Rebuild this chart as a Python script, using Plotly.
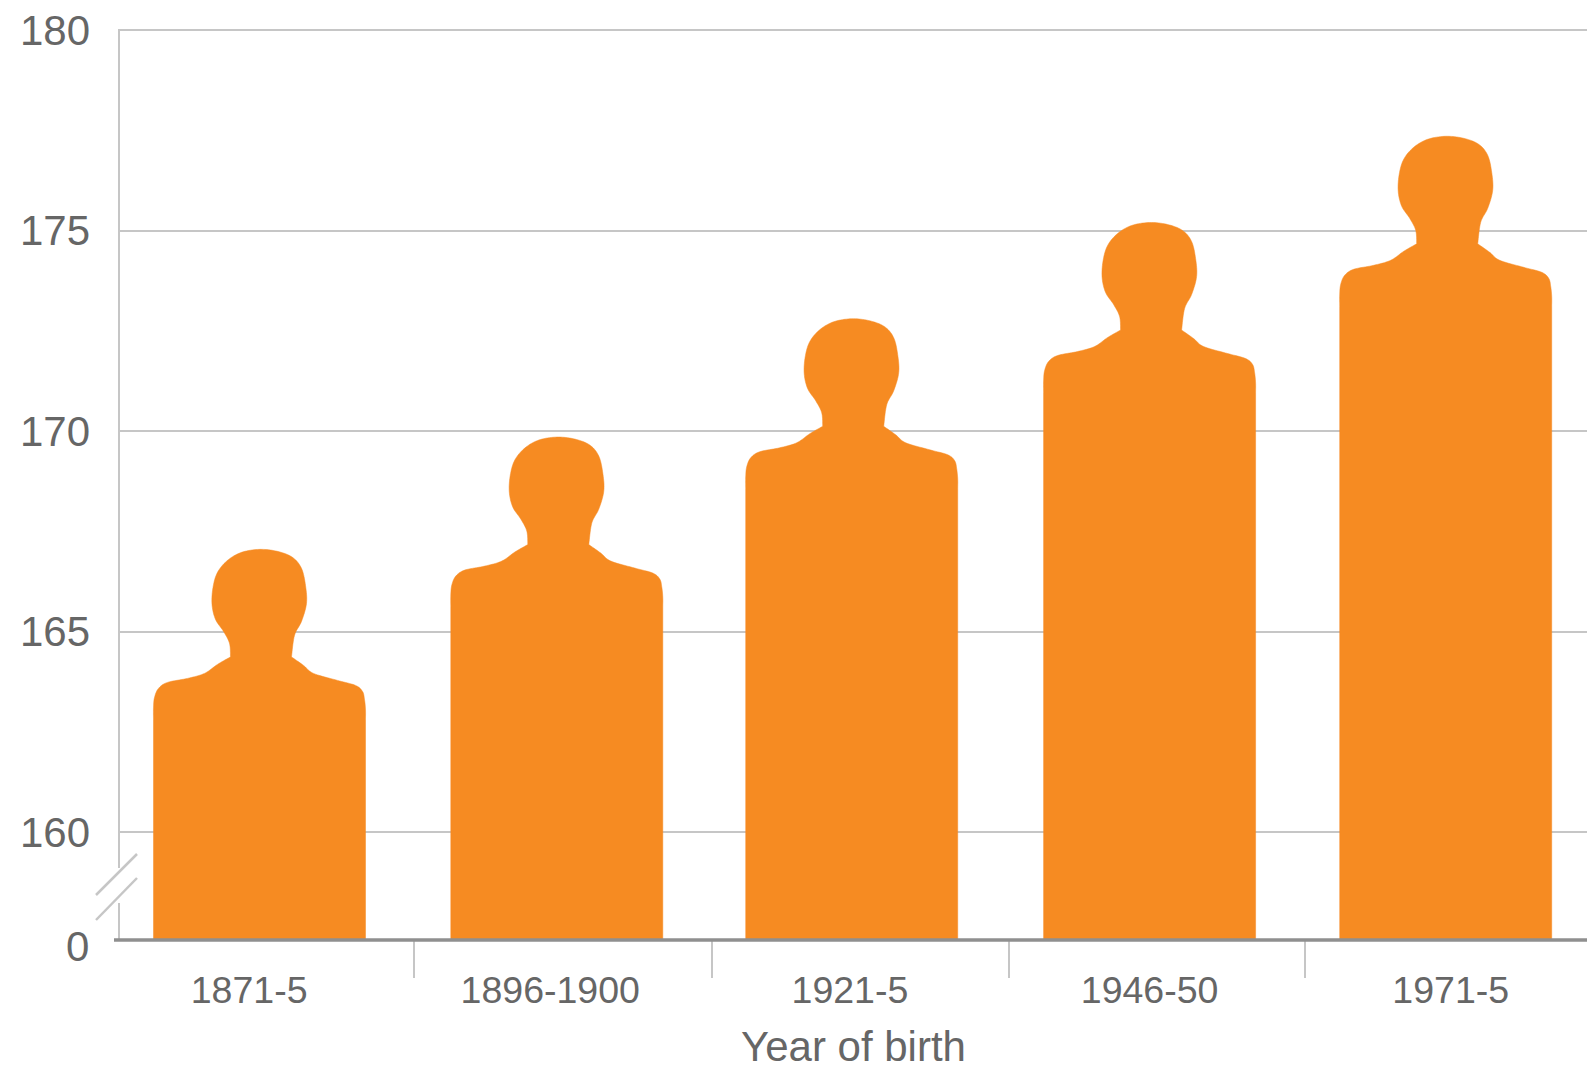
import plotly.graph_objects as go

# Average height (cm) by birth cohort
cohorts = ["1871-5", "1896-1900", "1921-5", "1946-50", "1971-5"]
heights = [167.05, 169.85, 172.8, 175.2, 177.35]
figure_positions = [0.0, 1.002, 1.996, 3.0, 3.998]
label_positions = [-0.035, 0.98, 1.99, 3.0, 4.015]
separator_positions = [0.52, 1.525, 2.525, 3.525]
y_ticks = [160, 165, 170, 175, 180]
axis_floor = 157.31  # where the broken axis reaches its zero line

WIDTH, HEIGHT = 1587, 1072
LEFT, TOP, BOTTOM = 119, 30, 132
COLUMN_PX = 296.7
UNIT_PX = 40.1
HALF_BODY_PX = 106
ORANGE = "#F68B22"
GRID = "#c6c6c6"
TEXT = "#666666"
FONT = "Liberation Sans"

# Control points of the silhouette, in pixels from the crown and the body's
# centre line; the three chains meet at the sharp corners beside the neck
left_shoulder_px = [
    (-106, 170), (-106, 158), (-105, 148), (-101, 139), (-92, 133), (-72, 129),
    (-55, 124), (-42, 115), (-29, 107.5),
]
head_px = [
    (-29, 107.5), (-30, 94), (-36, 82), (-44, 70), (-47.5, 55), (-46.5, 38), (-42, 23),
    (-32, 11), (-18, 3), (0, 0), (18, 2), (33, 8), (42, 19), (46, 36), (47, 54),
    (42, 72), (35, 86), (32, 107.5),
]
right_shoulder_px = [
    (32, 107.5), (44, 116), (54, 124), (78, 131), (96, 136), (103, 142), (105, 150),
    (106, 160), (106, 170),
]


def smooth_chain(points, steps=10):
    """Uniform Catmull-Rom curve through the control points."""
    pts = [points[0]] + points + [points[-1]]
    curve = []
    for i in range(1, len(pts) - 2):
        p0, p1, p2, p3 = pts[i - 1], pts[i], pts[i + 1], pts[i + 2]
        for s in range(steps):
            t = s / steps
            curve.append(tuple(
                0.5 * (2 * b + (c - a) * t + (2 * a - 5 * b + 4 * c - d) * t ** 2
                       + (3 * b - a - 3 * c + d) * t ** 3)
                for a, b, c, d in zip(p0, p1, p2, p3)
            ))
    curve.append(points[-1])
    return curve


silhouette = (
    smooth_chain(left_shoulder_px) + smooth_chain(head_px) + smooth_chain(right_shoulder_px)
)

fig = go.Figure()
for cohort, centre, height in zip(cohorts, figure_positions, heights):
    xs = [centre - HALF_BODY_PX / COLUMN_PX]
    ys = [axis_floor]
    for dx, dy in silhouette:
        xs.append(centre + dx / COLUMN_PX)
        ys.append(height - dy / UNIT_PX)
    xs.append(centre + HALF_BODY_PX / COLUMN_PX)
    ys.append(axis_floor)
    fig.add_trace(go.Scatter(
        x=xs, y=ys, name=cohort, mode="lines", fill="toself", fillcolor=ORANGE,
        line=dict(color=ORANGE, width=0.5, simplify=False),
        hoverinfo="name", showlegend=False,
    ))

plot_w = WIDTH - LEFT
plot_h = HEIGHT - TOP - BOTTOM


def px_x(v):
    return (v - LEFT) / plot_w


def px_y(v):
    return 1 - (v - TOP) / plot_h


def paper_line(x0, y0, x1, y1, color, width, layer="above"):
    return dict(type="line", xref="paper", yref="paper", x0=px_x(x0), y0=px_y(y0),
                x1=px_x(x1), y1=px_y(y1), line=dict(color=color, width=width), layer=layer)


shapes = [
    # Frame: top rule and left spine, the spine interrupted by the axis break
    paper_line(118, 30, WIDTH, 30, GRID, 2, "below"),
    paper_line(119, 30, 119, 868, GRID, 2, "below"),
    paper_line(119, 903, 119, 940, GRID, 2, "below"),
    # Axis-break slashes
    paper_line(96, 895, 137, 854, GRID, 2.5),
    paper_line(96, 920, 137, 878, GRID, 2.5),
    # Zero line
    paper_line(114, 940, WIDTH, 940, "#8f8f8f", 3.5),
]

fig.update_layout(
    width=WIDTH, height=HEIGHT, autosize=False,
    margin=dict(l=LEFT, r=0, t=TOP, b=BOTTOM),
    paper_bgcolor="white", plot_bgcolor="white",
    font=dict(family=FONT, color=TEXT),
    shapes=shapes,
    annotations=[
        dict(
            text="0", xref="paper", yref="y", x=0, y=axis_floor, xanchor="right",
            yanchor="middle", xshift=-28, yshift=-6, showarrow=False,
            font=dict(family=FONT, size=42, color=TEXT),
        ),
        dict(
            text="Year of birth", xref="paper", yref="paper", x=0.5, y=px_y(1046),
            xanchor="center", yanchor="middle", showarrow=False,
            font=dict(family=FONT, size=42, color=TEXT),
        ),
    ],
    xaxis=dict(
        range=[(LEFT - 259.5) / COLUMN_PX, (WIDTH - 259.5) / COLUMN_PX],
        tickmode="array", tickvals=label_positions, ticktext=cohorts,
        tickfont=dict(family=FONT, size=37.5, color=TEXT),
        ticks="", showgrid=False, zeroline=False, showline=False,
        ticklabelstandoff=24,
        minor=dict(tickmode="array", tickvals=separator_positions, ticks="outside",
                   ticklen=37, tickwidth=2, tickcolor=GRID, showgrid=False),
    ),
    yaxis=dict(
        range=[axis_floor, 180],
        tickmode="array", tickvals=y_ticks, ticktext=[str(t) for t in y_ticks],
        tickfont=dict(family=FONT, size=42, color=TEXT),
        ticks="", showgrid=True, gridcolor=GRID, gridwidth=2,
        zeroline=False, showline=False, ticklabelstandoff=28,
    ),
)

fig.write_html("out.html")
